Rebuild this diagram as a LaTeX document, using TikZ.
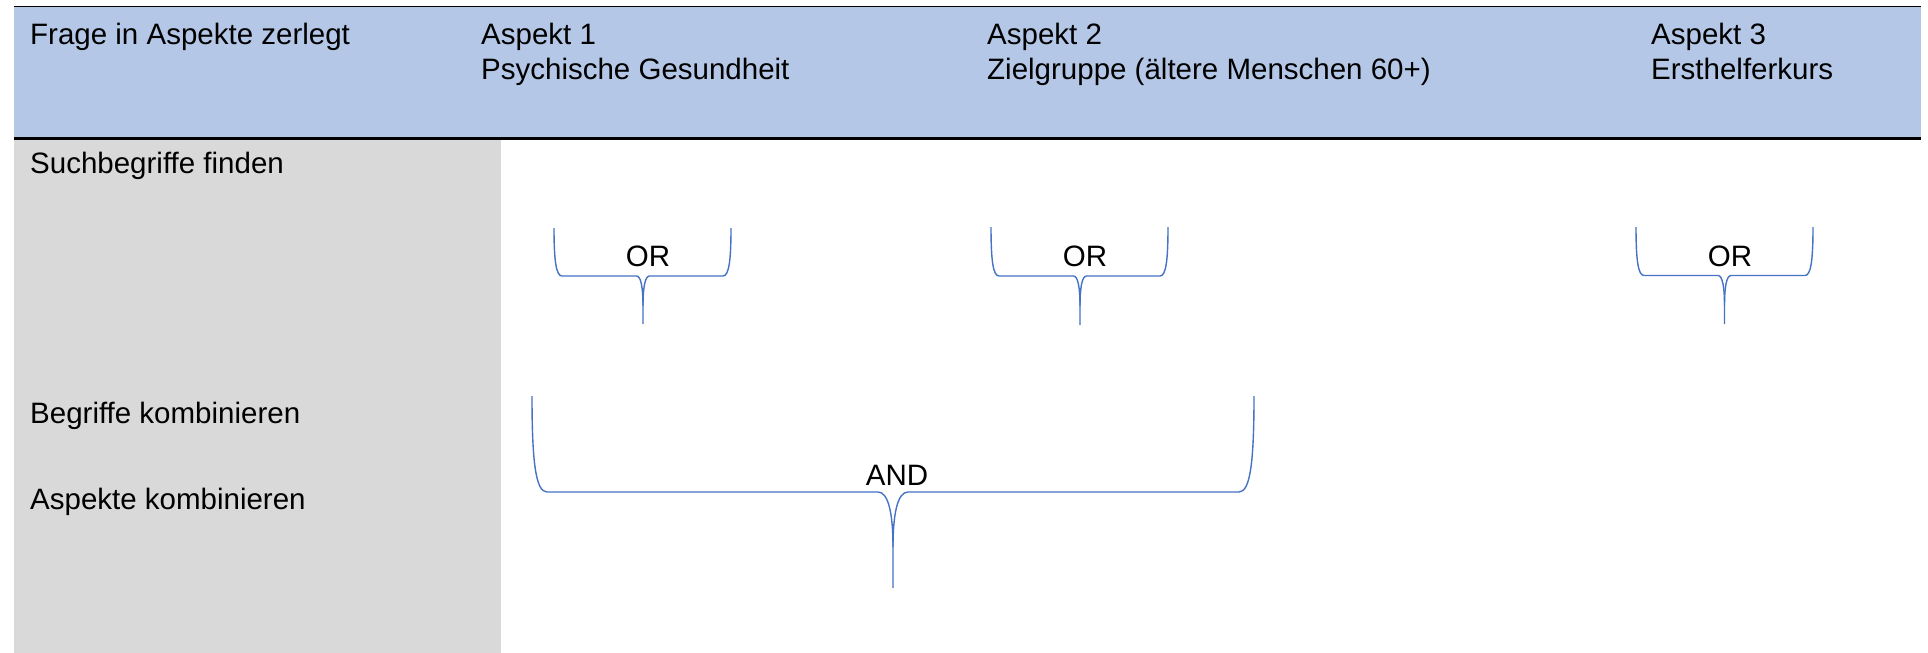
\documentclass[tikz,border=0pt]{standalone}
\usepackage{fontspec}
\setmainfont{Liberation Sans}
\definecolor{hdr}{HTML}{B4C7E7}
\definecolor{side}{HTML}{D9D9D9}
\definecolor{brc}{HTML}{4472C4}
% #1 L, #2 R, #3 T, #4 H, #5 B, #6 C, #7 corner width, #8 cusp width, #9 cusp depth
\newcommand\mybrace[9]{%
  \draw[brace] (#1,#3) .. controls (#1,{#4-2*#7}) and ({#1+0.25*#7},#4) .. ({#1+#7},#4)
    -- ({#6-#8},#4) .. controls ({#6-0.3*#8},#4) and (#6,{#4+0.4*#9}) .. (#6,{#4+#9}) -- (#6,#5);
  \draw[brace] (#2,#3) .. controls (#2,{#4-2*#7}) and ({#2-0.25*#7},#4) .. ({#2-#7},#4)
    -- ({#6+#8},#4) .. controls ({#6+0.3*#8},#4) and (#6,{#4+0.4*#9}) .. (#6,{#4+#9});
}
\begin{document}
\begin{tikzpicture}[x=1pt,y=-1pt,
  lbl/.style={anchor=base west,inner sep=0pt,font=\fontsize{29.5}{35}\selectfont},
  op/.style={anchor=base,inner sep=0pt,font=\fontsize{29.5}{35}\selectfont},
  brace/.style={draw=brc,line width=1.4pt}]
\useasboundingbox (0,0) rectangle (1928,653);
\fill[hdr] (14,6.5) rectangle (1921,138);
\fill[side] (14,139) rectangle (501,653);
\draw[line width=1.2pt] (14,6.5) -- (1921,6.5);
\draw[line width=3pt] (14,138) -- (1921,138);

\node[lbl] (h0) at (30,44) {Frage in Aspekte zerlegt};
\node[lbl] (h1a) at (481,44) {Aspekt 1};
\node[lbl] (h1b) at (481,79) {Psychische Gesundheit};
\node[lbl] (h2a) at (987,44) {Aspekt 2};
\node[lbl] (h2b) at (987,79) {Zielgruppe (ältere Menschen 60+)};
\node[lbl] (h3a) at (1651,44) {Aspekt 3};
\node[lbl] (h3b) at (1651,79) {Ersthelferkurs};

\node[lbl] (r1) at (30,173) {Suchbegriffe finden};
\node[lbl] (r2) at (30,423) {Begriffe kombinieren};
\node[lbl] (r3) at (30,509) {Aspekte kombinieren};

\mybrace{554}{731}{228}{276}{324}{643}{8}{6.5}{30}
\mybrace{991}{1168}{227}{276}{325}{1080}{8}{6.5}{30}
\mybrace{1636}{1813}{227}{275.5}{324}{1724.5}{8}{6.5}{30}
\mybrace{532}{1254}{396}{492}{588}{893}{15}{15}{55}

\node[op] (or1) at (648,266) {OR};
\node[op] (or2) at (1085,266) {OR};
\node[op] (or3) at (1730,266) {OR};
\node[op] (and) at (897,485) {AND};
\end{tikzpicture}
\end{document}
